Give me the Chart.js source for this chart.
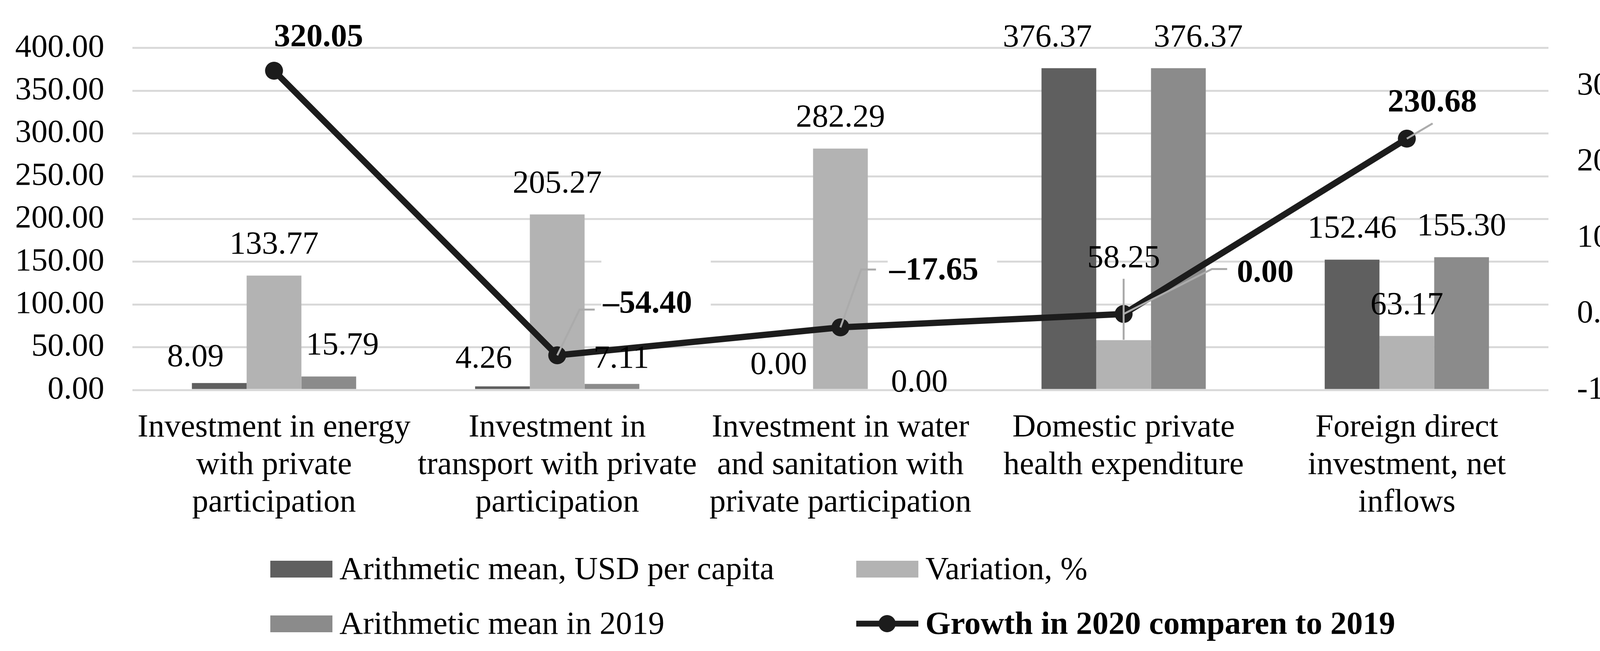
<!DOCTYPE html>
<html><head><meta charset="utf-8">
<script src="https://cdn.jsdelivr.net/npm/chart.js@4.4.1/dist/chart.umd.min.js"></script>
<style>html,body{margin:0;padding:0;background:#fff;}#wrap{width:4319px;height:1666px;position:relative;}</style>
</head><body><div id="wrap"><canvas id="c" width="4319" height="1666"></canvas></div>
<script>
// ---- data ----
const categories = [
  ["Investment in energy","with private","participation"],
  ["Investment in","transport with private","participation"],
  ["Investment in water","and sanitation with","private participation"],
  ["Domestic private","health expenditure"],
  ["Foreign direct","investment, net","inflows"]
];
const seriesNames = ["Arithmetic mean, USD per capita","Variation, %","Arithmetic mean in 2019","Growth in 2020 comparen to 2019"];
const meanUSD      = [8.09, 4.26, 0.00, 376.37, 152.46];
const variationPct = [133.77, 205.27, 282.29, 58.25, 63.17];
const mean2019     = [15.79, 7.11, 0.00, 376.37, 155.30];
const growth2020   = [320.05, -54.40, -17.65, 0.00, 230.68];
const leftTickValues  = [0,50,100,150,200,250,300,350,400];
const rightTickValues = [-100,-50,0,50,100,150,200,250,300,350];

// ---- styling / label layout ----
const FONT = "'Liberation Serif','Times New Roman',serif";
const FS = 83;
const barColors = ['#5f5f5f','#b3b3b3','#8b8b8b'];
const lineColor = '#1c1c1c';
const leaderColor = '#ababab';
// bar label nudges: [dx, dy(baseline rel. bar top), leaderLen]
const barNudge = {'0-0':[-61,-43],'0-1':[-48,-48],'2-1':[24,-41],'0-2':[-18,-41],'2-2':[62,4],
  '2-0':[35,-56],'0-3':[-55,-56],'2-3':[51,-56],'1-3':[0,-187,157]};
// line label layout relative to point
const lineLabelLayout = [
  {dx:0, dy:-63},
  {dx:117, dy:-109, leader:[[57,-117],[96,-117]], box:[113,-244,393,-57]},
  {dx:125, dy:-123, leader:[[53,-148],[91,-148]], box:[121,-176,401,-66]},
  {dx:290, dy:-83, leader:[[226,-115],[265,-115]]},
  {dx:-49, dy:-70, leader:[[66,-39]]}
];
const fmt = v => (v < 0 ? '\u2013' + Math.abs(v).toFixed(2) : v.toFixed(2));

const annot = {
  id:'annot',
  afterDraw(chart){
    const ctx = chart.ctx;
    ctx.save();
    // bar labels
    ctx.font = `${FS}px ${FONT}`; ctx.fillStyle = '#000';
    ctx.textAlign = 'center'; ctx.textBaseline = 'alphabetic';
    [0,1,2].forEach(di=>{
      const meta = chart.getDatasetMeta(di);
      meta.data.forEach((bar,i)=>{
        const v = chart.data.datasets[di].data[i];
        const n = barNudge[di+'-'+i] || [0,-56];
        ctx.fillText(v.toFixed(2), bar.x + n[0], bar.y + n[1]);
        if (n[2]) {
          ctx.strokeStyle = leaderColor; ctx.lineWidth = 5;
          ctx.beginPath(); ctx.moveTo(bar.x, bar.y - 1); ctx.lineTo(bar.x, bar.y - n[2]); ctx.stroke();
        }
      });
    });
    // line labels
    const lm = chart.getDatasetMeta(3);
    lm.data.forEach((pt,i)=>{
      const L = lineLabelLayout[i];
      if (L.leader) {
        ctx.strokeStyle = leaderColor; ctx.lineWidth = 5; ctx.lineJoin='miter';
        ctx.beginPath(); ctx.moveTo(pt.x, pt.y);
        L.leader.forEach(p=>ctx.lineTo(pt.x+p[0], pt.y+p[1]));
        ctx.stroke();
      }
      if (L.box) {
        ctx.fillStyle = '#fff';
        ctx.fillRect(pt.x+L.box[0], pt.y+L.box[1], L.box[2]-L.box[0], L.box[3]-L.box[1]);
      }
      ctx.fillStyle = '#000';
      ctx.font = `bold ${FS}px ${FONT}`; ctx.textAlign = 'left';
      ctx.fillText(fmt(chart.data.datasets[3].data[i]), pt.x + L.dx, pt.y + L.dy);
    });
    // legend (2 x 2)
    const cols = [692, 2192], rows = [1482, 1622];
    chart.data.datasets.forEach((ds,k)=>{
      const x = cols[k % 2], base = rows[Math.floor(k / 2)];
      if (ds.type === 'line') {
        const cy = base - 26;
        ctx.strokeStyle = ds.borderColor; ctx.lineWidth = 15;
        ctx.beginPath(); ctx.moveTo(x, cy); ctx.lineTo(x + 159, cy); ctx.stroke();
        ctx.fillStyle = ds.borderColor;
        ctx.beginPath(); ctx.arc(x + 79, cy, 22, 0, Math.PI*2); ctx.fill();
        ctx.font = `bold ${FS}px ${FONT}`;
      } else {
        ctx.fillStyle = ds.backgroundColor;
        ctx.fillRect(x, base - 47, 159, 43);
        ctx.font = `${FS}px ${FONT}`;
      }
      ctx.fillStyle = '#000'; ctx.textAlign = 'left';
      ctx.fillText(ds.label, x + 177, base);
    });
    ctx.restore();
  }
};

const tickFont = {family: FONT, size: FS};
new Chart(document.getElementById('c'), {
  data: {
    labels: categories,
    datasets: [
      {type:'bar', label:seriesNames[0], data:meanUSD, backgroundColor:barColors[0], yAxisID:'y', order:1},
      {type:'bar', label:seriesNames[1], data:variationPct, backgroundColor:barColors[1], yAxisID:'y', order:1},
      {type:'bar', label:seriesNames[2], data:mean2019, backgroundColor:barColors[2], yAxisID:'y', order:1},
      {type:'line', label:seriesNames[3], data:growth2020, borderColor:lineColor, backgroundColor:lineColor,
       borderWidth:16, pointRadius:23, pointBackgroundColor:lineColor, pointBorderWidth:0, tension:0, yAxisID:'y1', order:0, clip:false}
    ]
  },
  options: {
    responsive:false, animation:false, devicePixelRatio:1,
    layout:{padding:{top:114, left:0, right:0, bottom:0}},
    datasets:{bar:{categoryPercentage:0.58, barPercentage:1.0, borderWidth:0}},
    plugins:{legend:{display:false}, tooltip:{enabled:false}},
    scales:{
      x:{grid:{display:false, drawTicks:false}, border:{display:false},
         ticks:{font:{family:FONT, size:FS, lineHeight:96/FS}, color:'#000', padding:49, autoSkip:false, maxRotation:0, minRotation:0},
         afterFit(s){ s.height = 668; }},
      y:{position:'left', min:0, max:400,
         grid:{color:'#d9d9d9', lineWidth:5, drawTicks:false}, border:{display:false},
         ticks:{font:tickFont, color:'#000', padding:72, callback:v=>Number(v).toFixed(2)},
         afterBuildTicks(s){ s.ticks = leftTickValues.map(v=>({value:v})); },
         afterFit(s){ s.width = 339; }},
      y1:{position:'right', min:-100, max:350,
         grid:{display:false, drawTicks:false}, border:{display:false},
         ticks:{font:tickFont, color:'#000', padding:73, callback:v=>Number(v).toFixed(2)},
         afterBuildTicks(s){ s.ticks = rightTickValues.map(v=>({value:v})); },
         afterFit(s){ s.width = 355; }}
    }
  },
  plugins:[annot]
});
</script></body></html>
